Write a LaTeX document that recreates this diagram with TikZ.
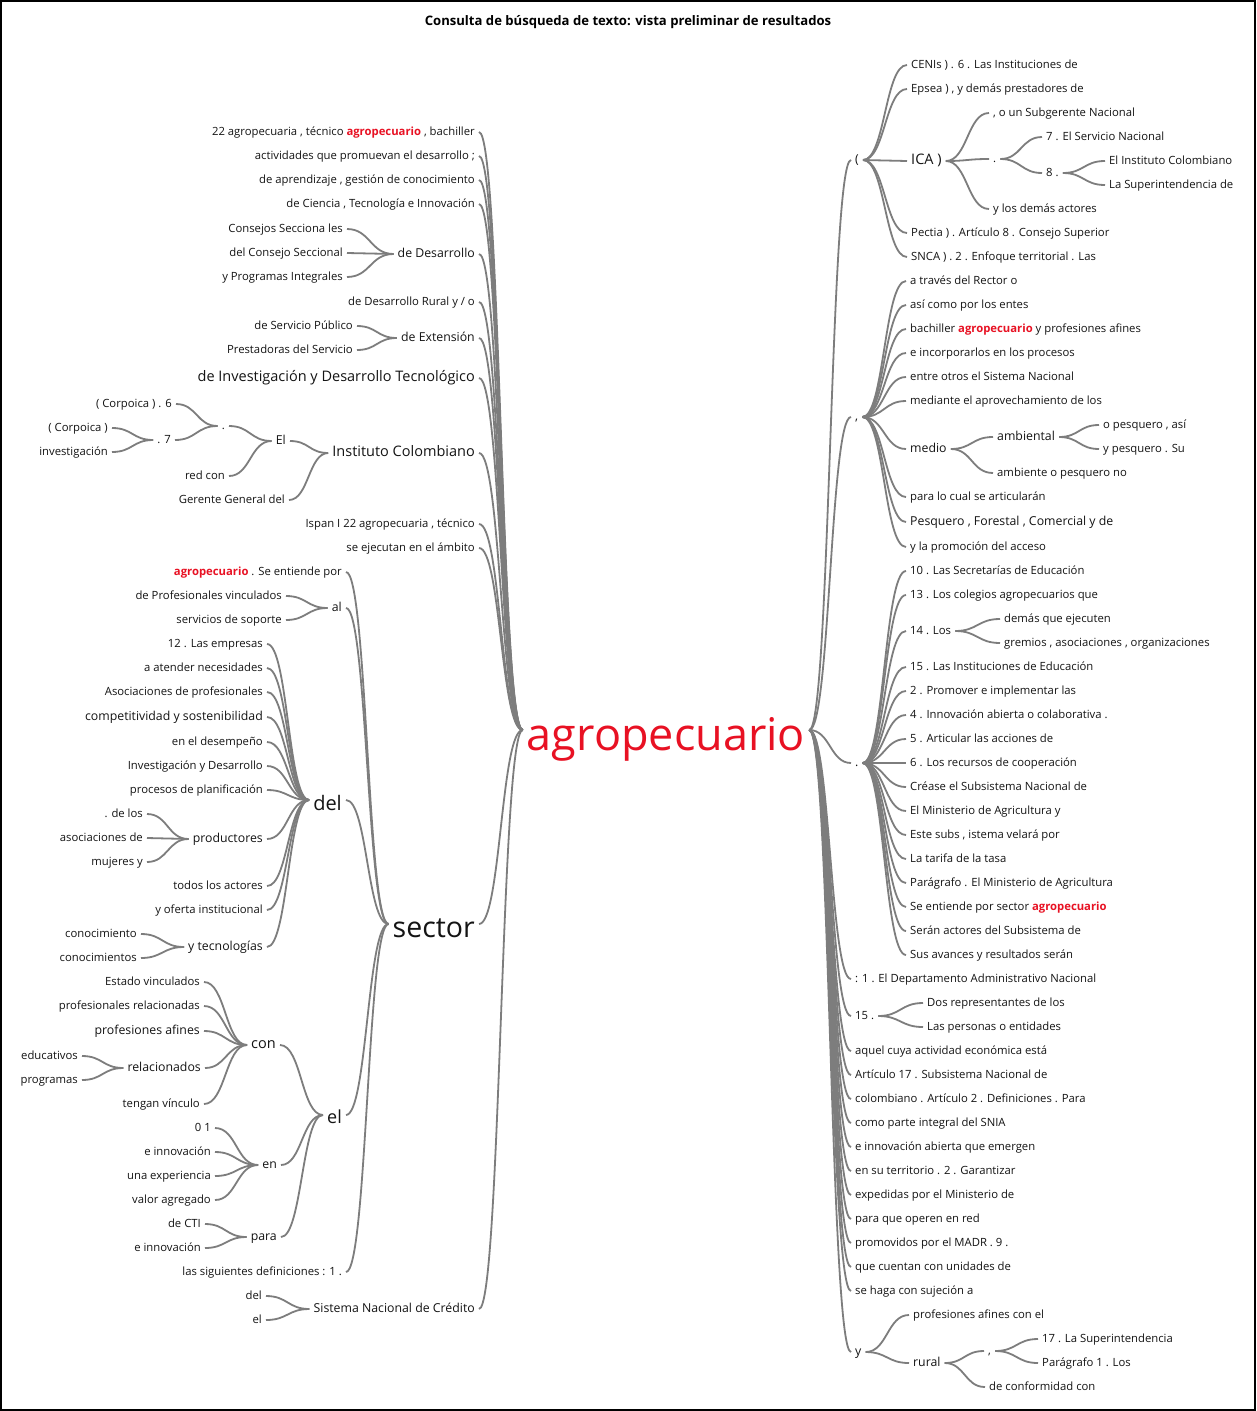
\documentclass[tikz,border=0pt]{standalone}
\usepackage{fontspec}
\setmainfont{Open Sans}
\usetikzlibrary{calc}
\definecolor{hl}{RGB}{232,17,35}
\definecolor{cn}{RGB}{125,125,125}
\definecolor{tx}{RGB}{20,20,20}
\newcommand\hlw[1]{\textcolor{hl}{\bfseries #1}}
\newcommand\CC[2]{\draw[conn] let \p1=($(#1.east)+(4,0)$), \p2=($(#2.west)+(-4,0)$), \p3=($(\p1)!0.5!(\p2)$) in (\p1) .. controls (\x3,\y1) and (\x3,\y2) .. (\p2);}
\tikzset{
  w/.style={inner sep=0pt, text height=7pt, text depth=1pt, text=tx, font=\fontsize{11.3}{13}\selectfont},
  wm/.style={w, font=\fontsize{12.3}{14}\selectfont},
  wl/.style={w, text height=8.5pt, text depth=1pt, font=\fontsize{14.5}{17}\selectfont},
  big/.style={inner sep=0pt, text height=#1, text depth=0pt, text=tx},
  L/.style={anchor=east}, R/.style={anchor=west},
  conn/.style={draw=cn, line width=1.8pt},
}
\begin{document}
\begin{tikzpicture}[x=1pt,y=-1pt]
\useasboundingbox (0,0) rectangle (1256,1411);
\fill[white] (0,0) rectangle (1256,1411);
\draw[line width=2pt] (1,1) rectangle (1255,1410);
\node[font=\fontsize{13.1}{15}\selectfont\bfseries, inner sep=0pt] (title) at (628,22) {Consulta de búsqueda de texto: vista preliminar de resultados};
% root
\node[big=40pt, text=hl, font=\fontsize{45}{50}\selectfont] (root) at (666,730) {agropecuario};
% ---------------- left side ----------------
\node[w,L] (a1) at (475,132) {22 agropecuaria , técnico \hlw{agropecuario} , bachiller};
\node[w,L] (a2) at (475,156) {actividades que promuevan el desarrollo ;};
\node[w,L] (a3) at (475,180) {de aprendizaje , gestión de conocimiento};
\node[w,L] (a4) at (475,204) {de Ciencia , Tecnología e Innovación};
\node[wm,L] (a5) at (475,254) {de Desarrollo};
\node[w,L] (a5a) at (343,229) {Consejos Secciona les};
\node[w,L] (a5b) at (343,253) {del Consejo Seccional};
\node[w,L] (a5c) at (343,277) {y Programas Integrales};
\node[w,L] (a6) at (475,302) {de Desarrollo Rural y / o};
\node[wm,L] (a7) at (475,338) {de Extensión};
\node[w,L] (a7a) at (353,326) {de Servicio Público};
\node[w,L] (a7b) at (353,350) {Prestadoras del Servicio};
\node[wl,L] (a8) at (475,378) {de Investigación y Desarrollo Tecnológico};
\node[wl,L] (a9) at (475,453) {Instituto Colombiano};
\node[wm,L] (a9a) at (286,441) {El};
\node[w,L] (a9a1) at (225,426) {.};
\node[w,L] (a9a1a) at (172,404) {( Corpoica ) . 6};
\node[w,L] (a9a1b) at (171,440) {. 7};
\node[w,L] (a9a1b1) at (108,428) {( Corpoica )};
\node[w,L] (a9a1b2) at (108,452) {investigación};
\node[w,L] (a9a2) at (225,476) {red con};
\node[w,L] (a9b) at (285,500) {Gerente General del};
\node[w,L] (a10) at (475,524) {Ispan I 22 agropecuaria , técnico};
\node[w,L] (a11) at (475,548) {se ejecutan en el ámbito};
\node[big=26pt,L,font=\fontsize{28.5}{32}\selectfont] (sec) at (475,924) {sector};
\node[w,L] (s1) at (342,572) {\hlw{agropecuario} . Se entiende por};
\node[wm,L] (s2) at (342,608) {al};
\node[w,L] (s2a) at (282,596) {de Profesionales vinculados};
\node[w,L] (s2b) at (282,620) {servicios de soporte};
\node[big=20pt,L,font=\fontsize{20}{24}\selectfont] (s3) at (342,800) {del};
\node[w,L] (d1) at (263,644) {12 . Las empresas};
\node[w,L] (d2) at (263,668) {a atender necesidades};
\node[w,L] (d3) at (263,692) {Asociaciones de profesionales};
\node[wm,L] (d4) at (263,717) {competitividad y sostenibilidad};
\node[w,L] (d5) at (263,742) {en el desempeño};
\node[w,L] (d6) at (263,766) {Investigación y Desarrollo};
\node[w,L] (d7) at (263,790) {procesos de planificación};
\node[wm,L] (d8) at (263,839) {productores};
\node[w,L] (d8a) at (143,814) {. de los};
\node[w,L] (d8b) at (143,838) {asociaciones de};
\node[w,L] (d8c) at (143,862) {mujeres y};
\node[w,L] (d9) at (263,886) {todos los actores};
\node[w,L] (d10) at (263,910) {y oferta institucional};
\node[wm,L] (d11) at (263,947) {y tecnologías};
\node[w,L] (d11a) at (137,934) {conocimiento};
\node[w,L] (d11b) at (137,958) {conocimientos};
\node[big=16pt,L,font=\fontsize{18}{22}\selectfont] (s4) at (342,1115) {el};
\node[wl,L] (e1) at (276,1045) {con};
\node[w,L] (e1a) at (200,982) {Estado vinculados};
\node[w,L] (e1b) at (200,1006) {profesionales relacionadas};
\node[wm,L] (e1c) at (200,1031) {profesiones afines};
\node[wm,L] (e1d) at (201,1068) {relacionados};
\node[w,L] (e1d1) at (78,1056) {educativos};
\node[w,L] (e1d2) at (78,1080) {programas};
\node[w,L] (e1e) at (200,1104) {tengan vínculo};
\node[wm,L] (e2) at (277,1165) {en};
\node[w,L] (e2a) at (211,1128) {0 1};
\node[w,L] (e2b) at (211,1152) {e innovación};
\node[w,L] (e2c) at (211,1176) {una experiencia};
\node[w,L] (e2d) at (211,1200) {valor agregado};
\node[wm,L] (e3) at (277,1237) {para};
\node[w,L] (e3a) at (201,1224) {de CTI};
\node[w,L] (e3b) at (201,1248) {e innovación};
\node[w,L] (s5) at (342,1272) {las siguientes definiciones : 1 .};
\node[wm,L] (a13) at (475,1309) {Sistema Nacional de Crédito};
\node[w,L] (a13a) at (262,1296) {del};
\node[w,L] (a13b) at (262,1320) {el};
% ---------------- right side ----------------
\node[wm,R] (b1) at (855,160) {(};
\node[w,R] (b1a) at (911,65) {CENIs ) . 6 . Las Instituciones de};
\node[w,R] (b1b) at (911,89) {Epsea ) , y demás prestadores de};
\node[wl,R] (b1c) at (911,161) {ICA )};
\node[w,R] (b1c1) at (993,113) {, o un Subgerente Nacional};
\node[w,R] (b1c2) at (993,159) {.};
\node[w,R] (b1c2a) at (1046,137) {7 . El Servicio Nacional};
\node[w,R] (b1c2b) at (1046,173) {8 .};
\node[w,R] (b1c2b1) at (1109,161) {El Instituto Colombiano};
\node[w,R] (b1c2b2) at (1109,185) {La Superintendencia de};
\node[w,R] (b1c3) at (993,209) {y los demás actores};
\node[w,R] (b1d) at (911,233) {Pectia ) . Artículo 8 . Consejo Superior};
\node[w,R] (b1e) at (911,257) {SNCA ) . 2 . Enfoque territorial . Las};
\node[wm,R] (b2) at (855,417) {,};
\node[w,R] (b2a) at (910,281) {a través del Rector o};
\node[w,R] (b2b) at (910,305) {así como por los entes};
\node[w,R] (b2c) at (910,329) {bachiller \hlw{agropecuario} y profesiones afines};
\node[w,R] (b2d) at (910,353) {e incorporarlos en los procesos};
\node[w,R] (b2e) at (910,377) {entre otros el Sistema Nacional};
\node[w,R] (b2f) at (910,401) {mediante el aprovechamiento de los};
\node[wm,R] (b2g) at (910,449) {medio};
\node[wm,R] (b2g1) at (997,437) {ambiental};
\node[w,R] (b2g1a) at (1103,425) {o pesquero , así};
\node[w,R] (b2g1b) at (1103,449) {y pesquero . Su};
\node[w,R] (b2g2) at (997,473) {ambiente o pesquero no};
\node[w,R] (b2h) at (910,497) {para lo cual se articularán};
\node[wm,R] (b2i) at (910,522) {Pesquero , Forestal , Comercial y de};
\node[w,R] (b2j) at (910,547) {y la promoción del acceso};
\node[wm,R] (b3) at (855,763) {.};
\node[w,R] (c1) at (910,571) {10 . Las Secretarías de Educación};
\node[w,R] (c2) at (910,595) {13 . Los colegios agropecuarios que};
\node[w,R] (c3) at (910,631) {14 . Los};
\node[w,R] (c3a) at (1004,619) {demás que ejecuten};
\node[w,R] (c3b) at (1004,643) {gremios , asociaciones , organizaciones};
\node[w,R] (c4) at (910,667) {15 . Las Instituciones de Educación};
\node[w,R] (c5) at (910,691) {2 . Promover e implementar las};
\node[w,R] (c6) at (910,715) {4 . Innovación abierta o colaborativa .};
\node[w,R] (c7) at (910,739) {5 . Articular las acciones de};
\node[w,R] (c8) at (910,763) {6 . Los recursos de cooperación};
\node[w,R] (c9) at (910,787) {Créase el Subsistema Nacional de};
\node[w,R] (c10) at (910,811) {El Ministerio de Agricultura y};
\node[w,R] (c11) at (910,835) {Este subs , istema velará por};
\node[w,R] (c12) at (910,859) {La tarifa de la tasa};
\node[w,R] (c13) at (910,883) {Parágrafo . El Ministerio de Agricultura};
\node[w,R] (c14) at (910,907) {Se entiende por sector \hlw{agropecuario}};
\node[w,R] (c15) at (910,931) {Serán actores del Subsistema de};
\node[w,R] (c16) at (910,955) {Sus avances y resultados serán};
\node[w,R] (b4) at (855,979) {: 1 . El Departamento Administrativo Nacional};
\node[w,R] (b5) at (855,1016) {15 .};
\node[w,R] (b5a) at (927,1003) {Dos representantes de los};
\node[w,R] (b5b) at (927,1027) {Las personas o entidades};
\node[w,R] (b6) at (855,1051) {aquel cuya actividad económica está};
\node[w,R] (b7) at (855,1075) {Artículo 17 . Subsistema Nacional de};
\node[w,R] (b8) at (855,1099) {colombiano . Artículo 2 . Definiciones . Para};
\node[w,R] (b9) at (855,1123) {como parte integral del SNIA};
\node[w,R] (b10) at (855,1147) {e innovación abierta que emergen};
\node[w,R] (b11) at (855,1171) {en su territorio . 2 . Garantizar};
\node[w,R] (b12) at (855,1195) {expedidas por el Ministerio de};
\node[w,R] (b13) at (855,1219) {para que operen en red};
\node[w,R] (b14) at (855,1243) {promovidos por el MADR . 9 .};
\node[w,R] (b15) at (855,1267) {que cuentan con unidades de};
\node[w,R] (b16) at (855,1291) {se haga con sujeción a};
\node[wm,R] (b17) at (855,1352) {y};
\node[w,R] (b17a) at (913,1315) {profesiones afines con el};
\node[wm,R] (b17b) at (913,1363) {rural};
\node[w,R] (b17b1) at (988,1351) {,};
\node[w,R] (b17b1a) at (1042,1339) {17 . La Superintendencia};
\node[w,R] (b17b1b) at (1042,1363) {Parágrafo 1 . Los};
\node[w,R] (b17b2) at (989,1387) {de conformidad con};
% ---------------- connectors: left ----------------
\foreach \q in {a1,a2,a3,a4,a5,a6,a7,a8,a9,a10,a11,sec,a13} {\CC{\q}{root}}
\foreach \q in {a5a,a5b,a5c} {\CC{\q}{a5}}
\foreach \q in {a7a,a7b} {\CC{\q}{a7}}
\foreach \q in {a9a,a9b} {\CC{\q}{a9}}
\foreach \q in {a9a1,a9a2} {\CC{\q}{a9a}}
\foreach \q in {a9a1a,a9a1b} {\CC{\q}{a9a1}}
\foreach \q in {a9a1b1,a9a1b2} {\CC{\q}{a9a1b}}
\foreach \q in {s1,s2,s3,s4,s5} {\CC{\q}{sec}}
\foreach \q in {s2a,s2b} {\CC{\q}{s2}}
\foreach \q in {d1,d2,d3,d4,d5,d6,d7,d8,d9,d10,d11} {\CC{\q}{s3}}
\foreach \q in {d8a,d8b,d8c} {\CC{\q}{d8}}
\foreach \q in {d11a,d11b} {\CC{\q}{d11}}
\foreach \q in {e1,e2,e3} {\CC{\q}{s4}}
\foreach \q in {e1a,e1b,e1c,e1d,e1e} {\CC{\q}{e1}}
\foreach \q in {e1d1,e1d2} {\CC{\q}{e1d}}
\foreach \q in {e2a,e2b,e2c,e2d} {\CC{\q}{e2}}
\foreach \q in {e3a,e3b} {\CC{\q}{e3}}
\foreach \q in {a13a,a13b} {\CC{\q}{a13}}
% ---------------- connectors: right ----------------
\foreach \q in {b1,b2,b3,b4,b5,b6,b7,b8,b9,b10,b11,b12,b13,b14,b15,b16,b17} {\CC{root}{\q}}
\foreach \q in {b1a,b1b,b1c,b1d,b1e} {\CC{b1}{\q}}
\foreach \q in {b1c1,b1c2,b1c3} {\CC{b1c}{\q}}
\foreach \q in {b1c2a,b1c2b} {\CC{b1c2}{\q}}
\foreach \q in {b1c2b1,b1c2b2} {\CC{b1c2b}{\q}}
\foreach \q in {b2a,b2b,b2c,b2d,b2e,b2f,b2g,b2h,b2i,b2j} {\CC{b2}{\q}}
\foreach \q in {b2g1,b2g2} {\CC{b2g}{\q}}
\foreach \q in {b2g1a,b2g1b} {\CC{b2g1}{\q}}
\foreach \q in {c1,c2,c3,c4,c5,c6,c7,c8,c9,c10,c11,c12,c13,c14,c15,c16} {\CC{b3}{\q}}
\foreach \q in {c3a,c3b} {\CC{c3}{\q}}
\foreach \q in {b5a,b5b} {\CC{b5}{\q}}
\foreach \q in {b17a,b17b} {\CC{b17}{\q}}
\foreach \q in {b17b1,b17b2} {\CC{b17b}{\q}}
\foreach \q in {b17b1a,b17b1b} {\CC{b17b1}{\q}}
\end{tikzpicture}
\end{document}
